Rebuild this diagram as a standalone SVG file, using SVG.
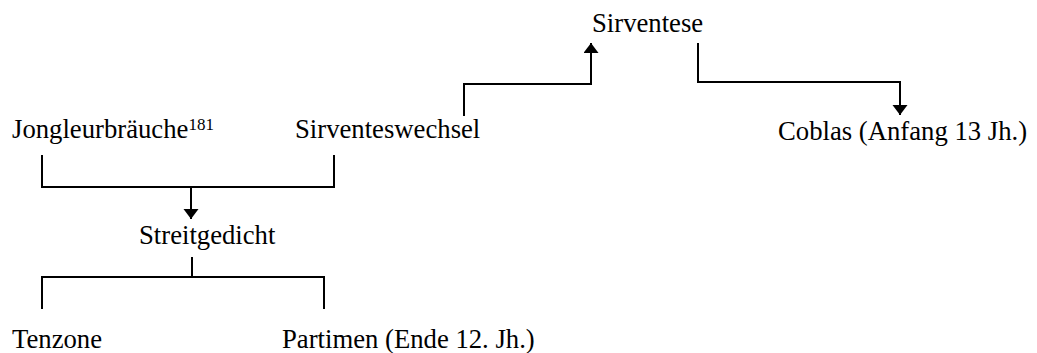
<svg xmlns="http://www.w3.org/2000/svg" width="1037" height="353" viewBox="0 0 1037 353">
<defs>
<style>
text{font-family:"Liberation Serif","Times New Roman",serif;font-size:26.7px;fill:#000}
.c{fill:none;stroke:#000;stroke-width:2}
.sup{font-size:17px}
</style>
<marker id="ah" markerWidth="11" markerHeight="16" refX="10" refY="7.5" orient="auto" markerUnits="userSpaceOnUse">
<path d="M0,0 L10,7.5 L0,15 Z" fill="#000"/>
</marker>
</defs>
<rect width="1037" height="353" fill="#fff"/>
<g id="connectors">
<path class="c" d="M464,116 V84 H591 V43" marker-end="url(#ah)"/>
<path class="c" d="M698,43 V82 H900 V115" marker-end="url(#ah)"/>
<path class="c" d="M42,155 V187 H334 V155"/>
<path class="c" d="M191,187 V219" marker-end="url(#ah)"/>
<path class="c" d="M192,257 V277"/>
<path class="c" d="M42,309 V277 H324 V309"/>
</g>
<g id="sirventese"><text x="592" y="32">Sirventese</text></g>
<g id="jongleurbraeuche"><text x="12" y="138">Jongleurbräuche<tspan class="sup" dy="-8">181</tspan></text></g>
<g id="sirventeswechsel"><text x="295" y="138">Sirventeswechsel</text></g>
<g id="coblas"><text x="778" y="140">Coblas (Anfang 13 Jh.)</text></g>
<g id="streitgedicht"><text x="139" y="244">Streitgedicht</text></g>
<g id="tenzone"><text x="12" y="348">Tenzone</text></g>
<g id="partimen"><text x="282" y="348">Partimen (Ende 12. Jh.)</text></g>
</svg>
